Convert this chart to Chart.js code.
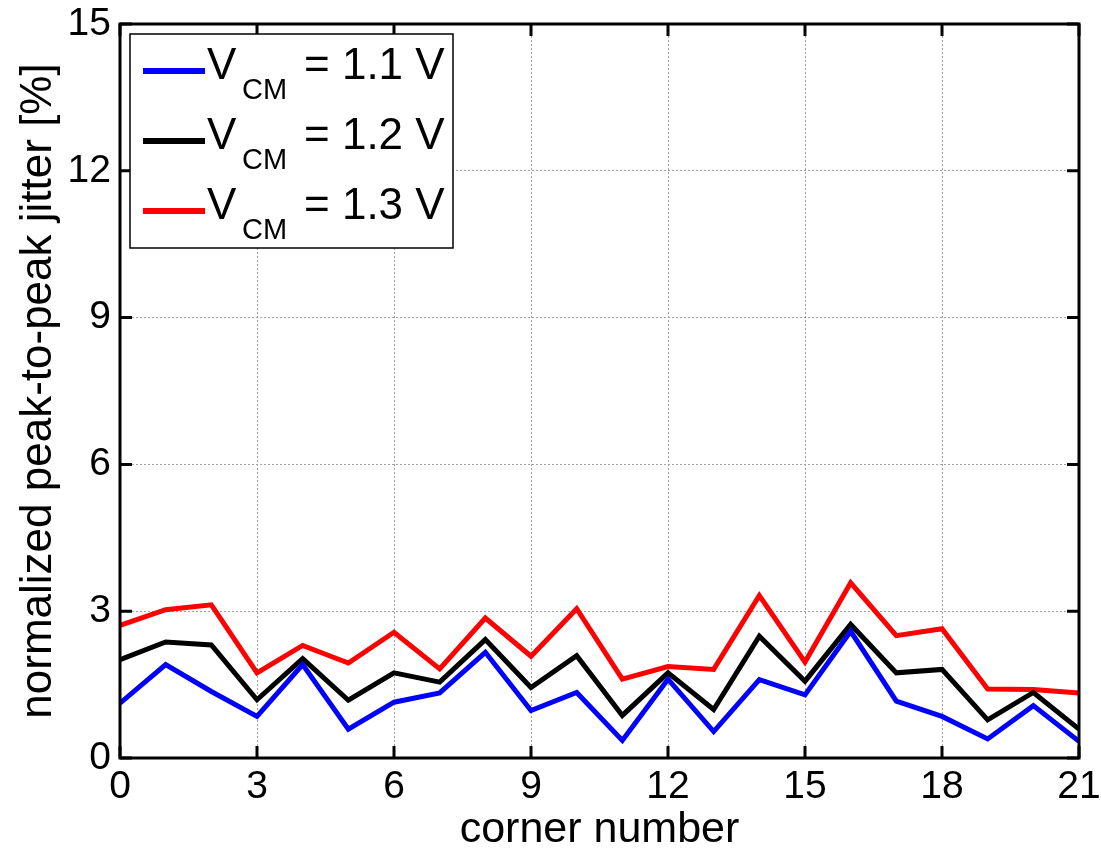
<!DOCTYPE html>
<html>
<head>
<meta charset="utf-8">
<script src="https://cdn.jsdelivr.net/npm/chart.js@4/dist/chart.umd.min.js"></script>
<style>
  html, body { margin: 0; padding: 0; background: #fff; }
  #wrap { width: 1101px; height: 849px; }
</style>
</head>
<body>
<div id="wrap"><canvas id="myChart" width="1101" height="849"></canvas></div>
<script>
// corner index 0..21
const corners = [0, 1, 2, 3, 4, 5, 6, 7, 8, 9, 10, 11, 12, 13, 14, 15, 16, 17, 18, 19, 20, 21];

const jitter11 = [1.12, 1.91, 1.36, 0.85, 1.91, 0.59, 1.14, 1.33, 2.16, 0.97, 1.34,
  0.36, 1.61, 0.54, 1.60, 1.29, 2.59, 1.16, 0.85, 0.39, 1.07, 0.34];
const jitter12 = [2.01, 2.37, 2.31, 1.19, 2.03, 1.18, 1.74, 1.55, 2.42, 1.44, 2.09,
  0.87, 1.74, 0.99, 2.49, 1.57, 2.73, 1.74, 1.81, 0.78, 1.34, 0.59];
const jitter13 = [2.71, 3.03, 3.13, 1.74, 2.30, 1.94, 2.57, 1.82, 2.86, 2.08, 3.05,
  1.61, 1.87, 1.81, 3.32, 1.96, 3.58, 2.50, 2.64, 1.41, 1.40, 1.33];

const seriesVoltages = ["1.1", "1.2", "1.3"];
const seriesColors = ["#0000ff", "#000000", "#ff0000"];

const FONT = "'Liberation Sans', Arial, sans-serif";

function pts(vals) {
  return vals.map((v, i) => ({ x: corners[i], y: v }));
}

// box, inward ticks and legend with subscripts
const matlabFrame = {
  id: "matlabFrame",
  afterDraw(chart) {
    const ctx = chart.ctx;
    const a = chart.chartArea;
    const xs = chart.scales.x, ys = chart.scales.y;
    ctx.save();
    ctx.strokeStyle = "#000";
    ctx.lineWidth = 3;
    ctx.beginPath();
    xs.ticks.forEach(t => {
      const px = xs.getPixelForValue(t.value);
      ctx.moveTo(px, a.bottom); ctx.lineTo(px, a.bottom - 12);
      ctx.moveTo(px, a.top); ctx.lineTo(px, a.top + 12);
    });
    ys.ticks.forEach(t => {
      const py = ys.getPixelForValue(t.value);
      ctx.moveTo(a.left, py); ctx.lineTo(a.left + 12, py);
      ctx.moveTo(a.right, py); ctx.lineTo(a.right - 12, py);
    });
    ctx.stroke();
    ctx.strokeRect(a.left, a.top, a.right - a.left, a.bottom - a.top);

    // legend
    const lx = a.left + 10, ly = a.top + 10, lw = 323, lh = 214;
    ctx.fillStyle = "#fff";
    ctx.fillRect(lx, ly, lw, lh);
    ctx.lineWidth = 1.5;
    ctx.strokeRect(lx, ly, lw, lh);
    chart.data.datasets.forEach((ds, i) => {
      const cy = ly + 37 + i * 70;
      ctx.strokeStyle = ds.borderColor;
      ctx.lineWidth = 6;
      ctx.beginPath();
      ctx.moveTo(lx + 13, cy);
      ctx.lineTo(lx + 75, cy);
      ctx.stroke();
      ctx.fillStyle = "#000";
      ctx.textBaseline = "alphabetic";
      ctx.textAlign = "left";
      ctx.font = "44px " + FONT;
      ctx.fillText("V", lx + 77, cy + 8);
      ctx.font = "29px " + FONT;
      ctx.fillText("CM", lx + 112, cy + 28);
      ctx.font = "44px " + FONT;
      ctx.fillText("= " + seriesVoltages[i] + " V", lx + 174, cy + 8);
    });
    ctx.restore();
  }
};

chart = new Chart(document.getElementById("myChart").getContext("2d"), {
  type: "line",
  data: {
    datasets: [
      { label: "VCM = 1.1 V", data: pts(jitter11), borderColor: seriesColors[0] },
      { label: "VCM = 1.2 V", data: pts(jitter12), borderColor: seriesColors[1] },
      { label: "VCM = 1.3 V", data: pts(jitter13), borderColor: seriesColors[2] },
    ],
  },
  options: {
    responsive: false,
    animation: false,
    layout: { padding: { left: 0, right: 22, top: 24, bottom: 0 } },
    elements: {
      line: { borderWidth: 5, tension: 0, borderJoinStyle: "miter", borderCapStyle: "butt" },
      point: { radius: 0 },
    },
    plugins: {
      legend: { display: false },
      tooltip: { enabled: false },
    },
    scales: {
      x: {
        type: "linear",
        min: 0,
        max: 21,
        afterFit: s => { s.height = 91; s.paddingLeft = 0; s.paddingRight = 0; },
        ticks: { stepSize: 3, color: "#000", padding: 6, font: { family: FONT, size: 39 } },
        grid: { color: "#a0a0a0", lineWidth: 1, drawTicks: false },
        border: { display: false, dash: [2, 2] },
        title: { display: true, text: "corner number", color: "#000", padding: { top: 0, bottom: -3 },
          font: { family: FONT, size: 43, lineHeight: 1 } },
      },
      y: {
        min: 0,
        max: 15,
        afterFit: s => { s.width = 120; s.paddingTop = 0; s.paddingBottom = 0; },
        ticks: { stepSize: 3, color: "#000", padding: 9, font: { family: FONT, size: 39 } },
        grid: { color: "#a0a0a0", lineWidth: 1, drawTicks: false },
        border: { display: false, dash: [2, 2] },
        title: { display: true, text: "normalized peak-to-peak jitter [%]", color: "#000",
          padding: { top: 12, bottom: 0 }, font: { family: FONT, size: 44 } },
      },
    },
  },
  plugins: [matlabFrame],
});
</script>
</body>
</html>
